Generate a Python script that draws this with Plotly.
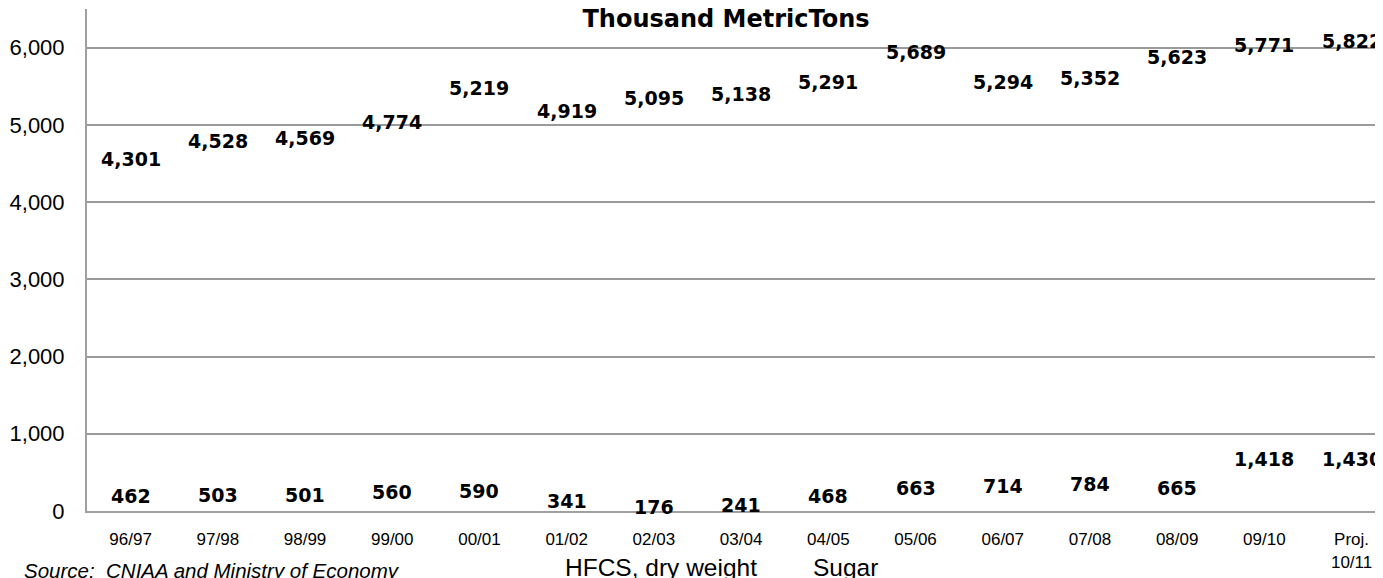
import plotly.graph_objects as go

categories = ["96/97", "97/98", "98/99", "99/00", "00/01", "01/02", "02/03", "03/04",
              "04/05", "05/06", "06/07", "07/08", "08/09", "09/10", "Proj.<br>10/11"]
hfcs = [462, 503, 501, 560, 590, 341, 176, 241, 468, 663, 714, 784, 665, 1418, 1430]
sugar = [4301, 4528, 4569, 4774, 5219, 4919, 5095, 5138, 5291, 5689, 5294, 5352, 5623, 5771, 5822]
y_ticks = [0, 1000, 2000, 3000, 4000, 5000, 6000]
y_tick_text = ["0", "1,000", "2,000", "3,000", "4,000", "5,000", "6,000"]

# page body has an 8px margin; figure sized to fill the rest of the window
OFF = 8
W, H = 1383 - OFF, 578 - OFF
ML, MR, MT, MB = 87 - OFF, 0, 9 - OFF, 578 - 511
PW, PH = W - ML - MR, H - MT - MB


def px_x(screen_x):
    return (screen_x - OFF - ML) / PW


def px_y(screen_y):
    return (H - MB - (screen_y - OFF)) / PH


fig = go.Figure()
fig.add_trace(go.Bar(x=categories, y=hfcs, name="HFCS, dry weight",
                     marker=dict(color="rgba(230,230,0,0)", line=dict(width=0))))
fig.add_trace(go.Bar(x=categories, y=sugar, name="Sugar",
                     marker=dict(color="rgba(90,90,90,0)", line=dict(width=0))))

label_font = dict(family="DejaVu Sans", size=19, color="black", weight="bold")
annotations = []
for c, v in zip(categories, sugar):
    annotations.append(dict(x=c, y=v, text=f"{v:,}", showarrow=False, yshift=20,
                            font=label_font, xref="x", yref="y"))
for c, v in zip(categories, hfcs):
    annotations.append(dict(x=c, y=v / 2, text=f"{v:,}", showarrow=False, yshift=-3,
                            font=label_font, xref="x", yref="y"))
annotations.append(dict(x=px_x(22), y=px_y(570), xref="paper", yref="paper",
                        xanchor="left", yanchor="middle", showarrow=False,
                        text="<i>Source:  CNIAA and Ministry of Economy</i>",
                        font=dict(family="Liberation Sans", size=20.5, color="black")))

fig.update_layout(
    width=W, height=H, autosize=False,
    margin=dict(l=ML, r=MR, t=MT, b=MB, autoexpand=False),
    paper_bgcolor="white", plot_bgcolor="white",
    barmode="overlay",
    title=dict(text="Thousand MetricTons", x=px_x(726), xref="paper",
               y=1 - (19 - OFF) / H, yref="container", yanchor="middle", xanchor="center",
               font=dict(family="DejaVu Sans", size=24, color="black", weight="bold")),
    xaxis=dict(range=[-0.5, 14.36], showgrid=False, showline=True, linecolor="#a0a0a0", linewidth=2,
               ticks="", tickfont=dict(family="Liberation Sans", size=17, color="black"),
               ticklabelstandoff=12, fixedrange=True, automargin=False),
    yaxis=dict(range=[0, 6500], tickvals=y_ticks, ticktext=y_tick_text, showgrid=True,
               gridcolor="#9a9a9a", gridwidth=1.5, showline=True, linecolor="#a0a0a0", linewidth=2,
               zeroline=False, ticks="", ticklabelstandoff=16,
               tickfont=dict(family="Liberation Sans", size=22, color="black"), fixedrange=True,
               automargin=False),
    legend=dict(orientation="h", x=px_x(525), xanchor="left", y=px_y(567),
                yanchor="middle",
                font=dict(family="Liberation Sans", size=24.5, color="black"),
                entrywidth=203, bgcolor="rgba(0,0,0,0)"),
    showlegend=True,
    annotations=annotations,
)

fig.write_html("out.html")
